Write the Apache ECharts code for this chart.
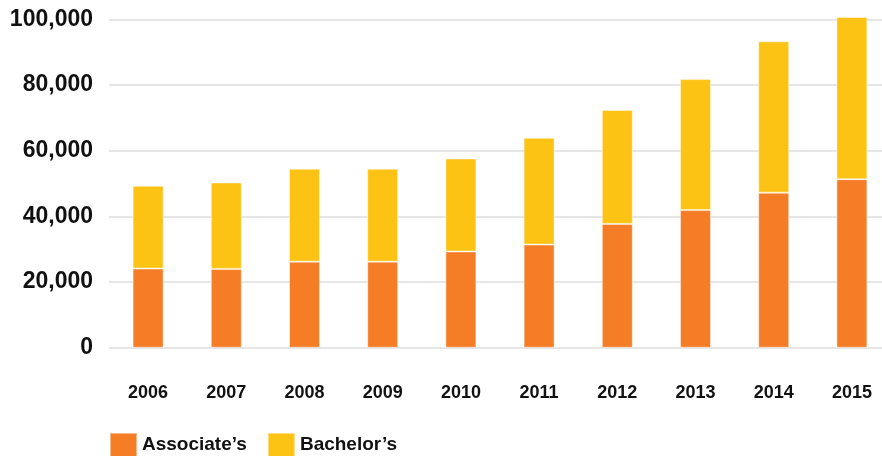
<!DOCTYPE html>
<html>
<head>
<meta charset="utf-8">
<script src="https://cdn.jsdelivr.net/npm/echarts@6/dist/echarts.min.js"></script>
<style>
html,body{margin:0;padding:0;background:#fff;}
#chart{width:882px;height:456px;}
</style>
</head>
<body>
<div id="chart"></div>
<script>
const years = ['2006','2007','2008','2009','2010','2011','2012','2013','2014','2015'];
const associates = [24100, 24000, 26200, 26200, 29300, 31400, 37700, 41900, 47200, 51300];
const bachelors = [25200, 26300, 28300, 28300, 28300, 32500, 34700, 39900, 46100, 49400];
const seriesNames = ['Associate’s', 'Bachelor’s'];
const yTicks = [0, 20000, 40000, 60000, 80000, 100000];

const chart = echarts.init(document.getElementById('chart'), null, {renderer: 'canvas'});
const fontFam = '"Liberation Sans", Arial, Helvetica, sans-serif';
chart.setOption({
  animation: false,
  backgroundColor: '#ffffff',
  legend: {
    left: 109,
    top: 432,
    padding: 0,
    itemWidth: 27,
    itemHeight: 24,
    itemGap: 20,
    icon: 'rect',
    textStyle: {fontFamily: fontFam, fontWeight: 'bold', fontSize: 19, color: '#111'},
    data: seriesNames
  },
  grid: {left: 109, width: 782, top: 19.3, bottom: 108.3, containLabel: false, outerBoundsMode: 'none'},
  xAxis: {
    type: 'category',
    data: years,
    axisLine: {show: false},
    axisTick: {show: false},
    axisLabel: {fontFamily: fontFam, fontWeight: 'bold', fontSize: 18, color: '#111', margin: 36}
  },
  yAxis: {
    type: 'value',
    min: yTicks[0],
    max: yTicks[yTicks.length - 1],
    interval: 20000,
    axisLine: {show: false},
    axisTick: {show: false},
    splitLine: {lineStyle: {color: '#e6e6e6', width: 2}},
    axisLabel: {
      fontFamily: fontFam, fontWeight: 'bold', fontSize: 23, color: '#111', margin: 16,
      formatter: v => v.toLocaleString('en-US')
    }
  },
  series: [
    {
      name: seriesNames[0], type: 'bar', stack: 'total', data: associates,
      barWidth: 31, clip: false,
      itemStyle: {color: '#F47D26', borderColor: 'rgba(255,255,255,0.45)', borderWidth: 1}
    },
    {
      name: seriesNames[1], type: 'bar', stack: 'total', data: bachelors,
      barWidth: 31, clip: false,
      itemStyle: {color: '#FDC314', borderColor: 'rgba(255,255,255,0.45)', borderWidth: 1}
    }
  ]
});
</script>
</body>
</html>
